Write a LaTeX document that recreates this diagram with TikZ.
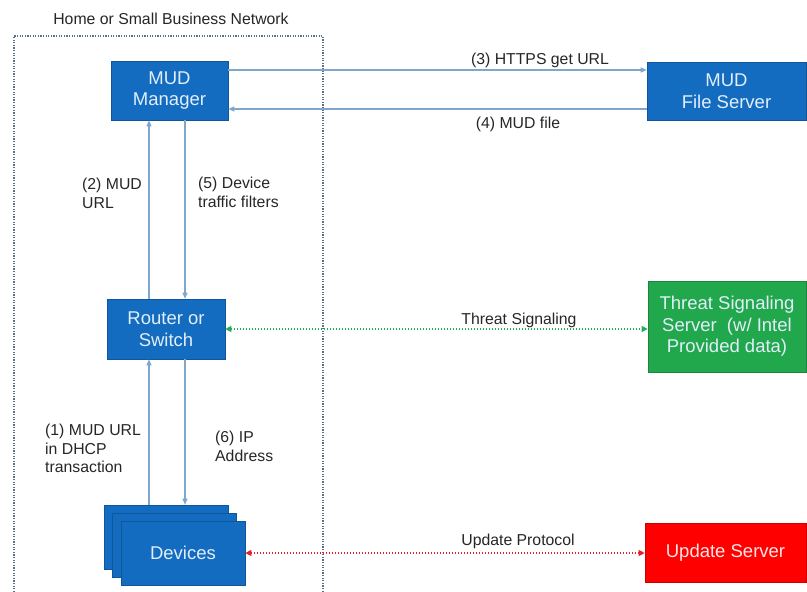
\documentclass[tikz,border=0pt]{standalone}
\usepackage{fontspec}
\setmainfont{Liberation Sans}
\usetikzlibrary{arrows.meta,calc}
\definecolor{boxblue}{HTML}{136CC0}
\definecolor{boxgreen}{HTML}{22A84C}
\definecolor{boxred}{HTML}{FE0000}
\definecolor{boxtext}{HTML}{E2EEFA}
\definecolor{linkblue}{HTML}{7FA6CE}
\definecolor{framegray}{HTML}{5A6E8C}
\definecolor{labelgray}{HTML}{262626}
\definecolor{dotgreen}{HTML}{1FAE5A}
\definecolor{dotred}{HTML}{E8202A}
\tikzset{
  bluebox/.style={draw=boxblue!80!black, line width=0.6pt, fill=boxblue, text=boxtext,
    font=\fontsize{18.5}{21.5}\selectfont, align=center, inner sep=0pt},
  greenbox/.style={bluebox, draw=boxgreen!80!black, fill=boxgreen},
  redbox/.style={bluebox, draw=boxred!80!black, fill=boxred, text=white!90!red},
  devbox/.style={draw=boxblue!80!black, line width=0.6pt, fill=boxblue,
    minimum width=124pt, minimum height=64pt, inner sep=0pt},
  flow/.style={draw=linkblue, line width=1.1pt, -{Triangle[length=6pt,width=5pt]}},
  lbl/.style={text=labelgray, font=\fontsize{15.8}{18.5}\selectfont, inner sep=0pt, align=left},
  dotlink/.style={line width=1.1pt, dash pattern=on 1.4pt off 1.6pt,
    {Triangle[length=6pt,width=6pt]}-{Triangle[length=6pt,width=6pt]}},
  frame/.style={draw=framegray, line width=1.4pt, dash pattern=on 1.3pt off 1.3pt}
}
\begin{document}
\begin{tikzpicture}[x=1pt,y=-1pt]
\useasboundingbox (0,0) rectangle (807,592);

% network boundary, open towards the bottom
\draw[frame] (14,592) -- (14,36) -- (323,36) -- (323,592);
\node[lbl, anchor=center] (netlbl) at (171,19) {Home or Small Business Network};

% boxes
\node[bluebox, minimum width=117pt, minimum height=59pt] (mgr) at (169.5,90.5) {MUD\\Manager};
\node[bluebox, minimum width=159pt, minimum height=58pt] (mfs) at (726.5,91) {MUD\\File Server};
\node[bluebox, minimum width=118pt, minimum height=60pt] (rtr) at (166,329) {Router or\\Switch};
\node[greenbox, minimum width=158pt, minimum height=91pt] (tss) at (727,326.5)
  {Threat Signaling\\Server\ \ (w/ Intel\\Provided data)};
\node[redbox, minimum width=161pt, minimum height=59pt] (ups) at (725.5,552.5) {Update Server};

% stacked devices
\node[devbox] (dev3) at (166,537) {};
\node[devbox] (dev2) at (174.5,545) {};
\node[devbox, font=\fontsize{18.5}{21.5}\selectfont, text=boxtext] (dev) at (183,553) {Devices};

% reference columns and rows for the links
\coordinate (cl) at (149,0);
\coordinate (cr) at (185,0);
\coordinate (r3) at (0,70);
\coordinate (r4) at (0,109);

% MUD manager <-> MUD file server
\draw[flow] (mgr.east |- r3) -- (mfs.west |- r3);
\draw[flow] (mfs.west |- r4) -- (mgr.east |- r4);
\node[lbl, anchor=center] (l3) at (540,60) {(3) HTTPS get URL};
\node[lbl, anchor=center] (l4) at (518,124) {(4) MUD file};

% router <-> MUD manager
\draw[flow] (rtr.north -| cl) -- (mgr.south -| cl);
\draw[flow] (mgr.south -| cr) -- (rtr.north -| cr);
\node[lbl, anchor=north west] (l2) at (82,178) {(2) MUD\\URL};
\node[lbl, anchor=north west] (l5) at (198,177) {(5) Device\\traffic filters};

% devices <-> router
\draw[flow] (dev3.north -| cl) -- (rtr.south -| cl);
\draw[flow] (rtr.south -| cr) -- (dev3.north -| cr);
\node[lbl, anchor=north west] (l1) at (45,424) {(1) MUD URL\\in DHCP\\transaction};
\node[lbl, anchor=north west] (l6) at (215,431) {(6) IP\\Address};

% external signalling and update links
\draw[dotlink, draw=dotgreen, color=dotgreen] (rtr.east) -- (tss.west |- rtr.east);
\node[lbl, anchor=center] (lts) at (519,320) {Threat Signaling};
\draw[dotlink, draw=dotred, color=dotred] (dev.east) -- (ups.west |- dev.east);
\node[lbl, anchor=center] (lup) at (518,541) {Update Protocol};
\end{tikzpicture}
\end{document}
